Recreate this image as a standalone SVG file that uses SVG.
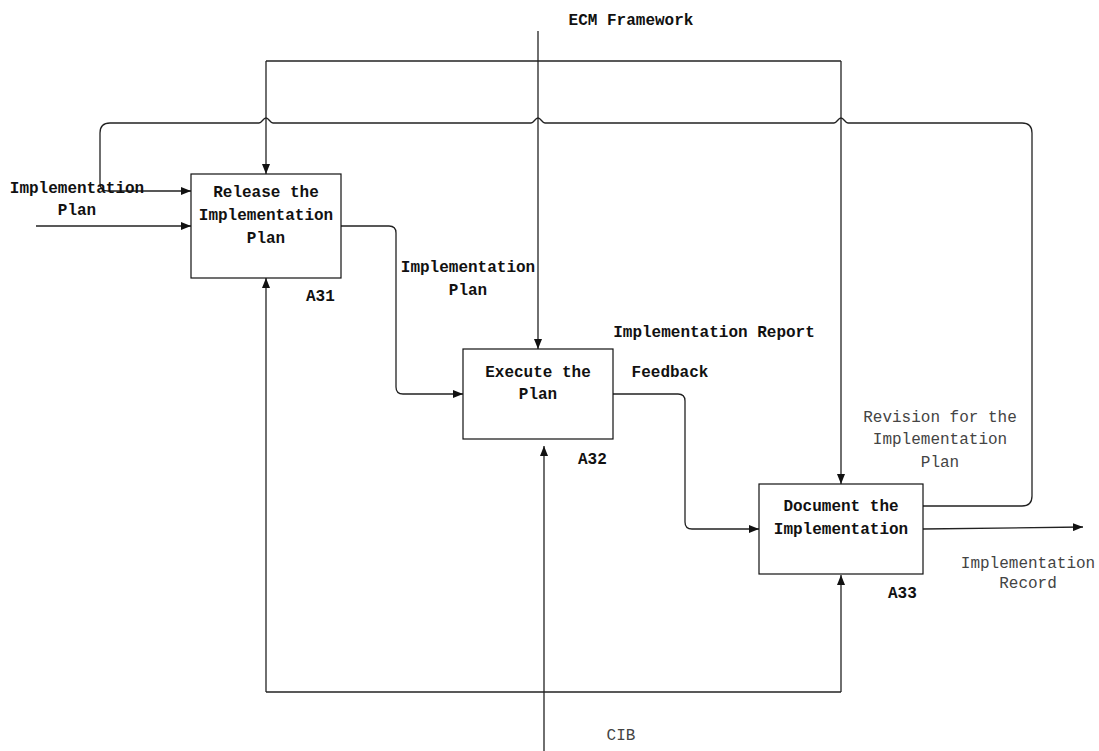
<svg xmlns="http://www.w3.org/2000/svg" width="1099" height="751" viewBox="0 0 1099 751">
<style>
.box{fill:#fff;stroke:#111;stroke-width:1.2}
.ln{fill:none;stroke:#222;stroke-width:1.3}
.arr{marker-end:url(#ah)}
.t{font-family:"Liberation Mono",monospace;font-size:16px;font-weight:bold;fill:#111;text-anchor:middle}
.g{font-family:"Liberation Mono",monospace;font-size:16px;fill:#444;text-anchor:middle}
.id{font-family:"Liberation Mono",monospace;font-size:16px;font-weight:bold;fill:#111}
</style>
<defs>
<marker id="ah" viewBox="0 0 10 8" refX="10" refY="4" markerWidth="10" markerHeight="8" markerUnits="userSpaceOnUse" orient="auto">
<path d="M0,0 L10,4 L0,8 Z" fill="#111"/>
</marker>
</defs>
<rect width="1099" height="751" fill="#fff"/>
<g id="connectors">
<!-- top control bar -->
<path class="ln" d="M266,61 L841,61"/>
<path class="ln arr" d="M266,61 L266,174"/>
<path class="ln arr" d="M841,61 L841,484"/>
<!-- ECM Framework -->
<path class="ln arr" d="M538,31 L538,349"/>
<!-- feedback loop with hops -->
<path class="ln arr" d="M923,506 L1022,506 Q1032,506 1032,496 L1032,133 Q1032,123 1022,123 L848,123 C845,123 844,118 841,118 C838,118 837,123 834,123 L545,123 C542,123 541,118 538,118 C535,118 534,123 531,123 L273,123 C270,123 269,118 266,118 C263,118 262,123 259,123 L110,123 Q100,123 100,133 L100,183 Q100,191 108,191 L191,191"/>
<!-- input -->
<path class="ln arr" d="M36,226 L191,226"/>
<!-- A31 -> A32 -->
<path class="ln arr" d="M341,226 L389,226 Q396,226 396,233 L396,387 Q396,394 403,394 L463,394"/>
<!-- A32 -> A33 -->
<path class="ln arr" d="M613,394 L678,394 Q685,394 685,401 L685,522 Q685,529 692,529 L759,529"/>
<!-- output -->
<path class="ln arr" d="M923,529 L1083,527"/>
<!-- mechanism bar -->
<path class="ln arr" d="M266,692 L266,278"/>
<path class="ln" d="M266,692 L841,692"/>
<path class="ln arr" d="M841,692 L841,575"/>
<!-- CIB -->
<path class="ln arr" d="M544,751 L544,446"/>
</g>
<g id="A31">
<rect class="box" x="191" y="174" width="150" height="104"/>
<text class="t" x="266" y="197">Release the</text>
<text class="t" x="266" y="220">Implementation</text>
<text class="t" x="266" y="243">Plan</text>
<text class="id" x="306" y="301">A31</text>
</g>
<g id="A32">
<rect class="box" x="463" y="349" width="150" height="90"/>
<text class="t" x="538" y="377">Execute the</text>
<text class="t" x="538" y="399">Plan</text>
<text class="id" x="578" y="464">A32</text>
</g>
<g id="A33">
<rect class="box" x="759" y="484" width="164" height="90"/>
<text class="t" x="841" y="511">Document the</text>
<text class="t" x="841" y="534">Implementation</text>
<text class="id" x="888" y="598">A33</text>
</g>
<g id="labels">
<text class="t" x="631" y="25">ECM Framework</text>
<text class="t" x="77" y="193">Implementation</text>
<text class="t" x="77" y="215">Plan</text>
<text class="t" x="468" y="272">Implementation</text>
<text class="t" x="468" y="295">Plan</text>
<text class="t" x="714" y="337">Implementation Report</text>
<text class="t" x="670" y="377">Feedback</text>
<text class="g" x="940" y="422">Revision for the</text>
<text class="g" x="940" y="444">Implementation</text>
<text class="g" x="940" y="467">Plan</text>
<text class="g" x="1028" y="568">Implementation</text>
<text class="g" x="1028" y="588">Record</text>
<text class="g" x="621" y="740">CIB</text>
</g>
</svg>
